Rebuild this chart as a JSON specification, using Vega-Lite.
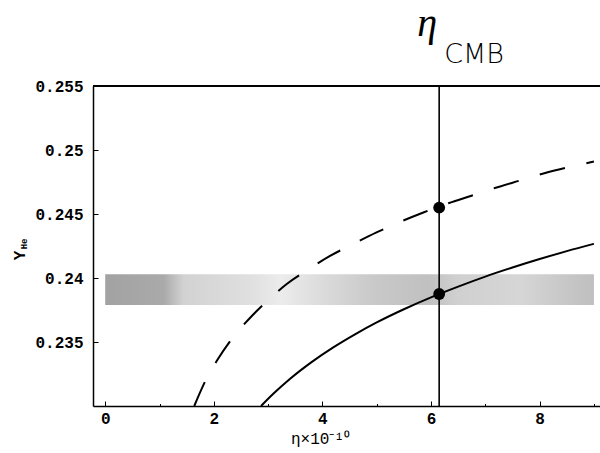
{
  "$schema": "https://vega.github.io/schema/vega-lite/v6.json",
  "width": 507,
  "height": 320,
  "autosize": {"type": "none"},
  "padding": {"left": 93, "top": 86, "right": 0, "bottom": 47},
  "background": "white",
  "config": {
    "view": {"stroke": null},
    "axis": {
      "domainColor": "black",
      "domainWidth": 1.5,
      "tickColor": "black",
      "tickWidth": 1,
      "grid": false,
      "labelOverlap": false,
      "labelFont": "Liberation Mono",
      "labelFontSize": 16,
      "labelFontWeight": "bold",
      "labelColor": "black",
      "titleFont": "Liberation Mono",
      "titleColor": "black"
    }
  },
  "data": {
    "values": [
      {"s": "band", "eta": 0, "eta2": 9, "Y": 0.2379, "Y2": 0.2403},
      {"s": "cmb", "eta": 6.15},
      {"s": "solid", "eta": 2.87, "Y": 0.2300},
      {"s": "solid", "eta": 3.1, "Y": 0.23097},
      {"s": "solid", "eta": 3.4, "Y": 0.23211},
      {"s": "solid", "eta": 3.8, "Y": 0.23343},
      {"s": "solid", "eta": 4.2, "Y": 0.23458},
      {"s": "solid", "eta": 4.6, "Y": 0.2356},
      {"s": "solid", "eta": 5.0, "Y": 0.23653},
      {"s": "solid", "eta": 5.5, "Y": 0.23756},
      {"s": "solid", "eta": 6.0, "Y": 0.23849},
      {"s": "solid", "eta": 6.15, "Y": 0.23875},
      {"s": "solid", "eta": 6.5, "Y": 0.23933},
      {"s": "solid", "eta": 7.0, "Y": 0.24011},
      {"s": "solid", "eta": 7.5, "Y": 0.24082},
      {"s": "solid", "eta": 8.0, "Y": 0.24148},
      {"s": "solid", "eta": 8.5, "Y": 0.2421},
      {"s": "solid", "eta": 9.0, "Y": 0.24267},
      {"s": "dashed", "eta": 1.64, "Y": 0.2300},
      {"s": "dashed", "eta": 1.838, "Y": 0.2319},
      {"s": "dashed", "eta": 2.064, "Y": 0.23359},
      {"s": "dashed", "eta": 2.348, "Y": 0.23534},
      {"s": "dashed", "eta": 2.648, "Y": 0.2368},
      {"s": "dashed", "eta": 3.004, "Y": 0.23828},
      {"s": "dashed", "eta": 3.343, "Y": 0.23953},
      {"s": "dashed", "eta": 3.753, "Y": 0.2407},
      {"s": "dashed", "eta": 4.14, "Y": 0.24172},
      {"s": "dashed", "eta": 4.569, "Y": 0.24266},
      {"s": "dashed", "eta": 4.987, "Y": 0.24354},
      {"s": "dashed", "eta": 5.429, "Y": 0.24438},
      {"s": "dashed", "eta": 5.847, "Y": 0.2451},
      {"s": "dashed", "eta": 6.319, "Y": 0.24584},
      {"s": "dashed", "eta": 6.731, "Y": 0.24641},
      {"s": "dashed", "eta": 7.191, "Y": 0.24705},
      {"s": "dashed", "eta": 7.626, "Y": 0.2476},
      {"s": "dashed", "eta": 8.087, "Y": 0.24818},
      {"s": "dashed", "eta": 8.529, "Y": 0.24865},
      {"s": "dashed", "eta": 9.0, "Y": 0.2491},
      {"s": "dot", "eta": 6.15, "Y": 0.2455},
      {"s": "dot", "eta": 6.15, "Y": 0.23875}
    ]
  },
  "layer": [
    {
      "transform": [{"filter": "datum.s === 'band'"}],
      "mark": {
        "type": "rect",
        "fill": {
          "gradient": "linear",
          "x1": 0, "x2": 1, "y1": 0, "y2": 0,
          "stops": [
            {"offset": 0.0, "color": "#a2a2a2"},
            {"offset": 0.12, "color": "#aaaaaa"},
            {"offset": 0.16, "color": "#d2d2d2"},
            {"offset": 0.3, "color": "#e0e0e0"},
            {"offset": 0.36, "color": "#ececec"},
            {"offset": 0.45, "color": "#dadada"},
            {"offset": 0.55, "color": "#c9c9c9"},
            {"offset": 0.66, "color": "#c0c0c0"},
            {"offset": 0.72, "color": "#d0d0d0"},
            {"offset": 0.85, "color": "#d6d6d6"},
            {"offset": 0.95, "color": "#c6c6c6"},
            {"offset": 1.0, "color": "#bfbfbf"}
          ]
        }
      },
      "encoding": {
        "x": {
          "field": "eta", "type": "quantitative",
          "scale": {"domain": [-0.225, 9.112], "nice": false, "zero": false},
          "axis": {
            "orient": "bottom",
            "values": [0, 0.5, 1, 1.5, 2, 2.5, 3, 3.5, 4, 4.5, 5, 5.5, 6, 6.5, 7, 7.5, 8, 8.5, 9],
            "labelOverlap": false,
            "labelExpr": "datum.value % 2 == 0 ? format(datum.value, 'd') : ''",
            "tickSize": {"condition": {"test": "datum.value % 2 == 0", "value": -5}, "value": -2.5},
            "labelPadding": 9,
            "title": "η×10⁻¹⁰",
            "titleFontSize": 16,
            "titleFontWeight": "normal",
            "titleX": 227,
            "titleY": 37,
            "titleBaseline": "alphabetic",
            "titleAlign": "center"
          }
        },
        "x2": {"field": "eta2"},
        "y": {
          "field": "Y", "type": "quantitative",
          "scale": {"domain": [0.23, 0.255], "nice": false, "zero": false},
          "axis": {
            "orient": "left",
            "values": [0.235, 0.24, 0.245, 0.25, 0.255],
            "labelOverlap": false,
            "format": ".3~f",
            "tickSize": -5,
            "labelPadding": 15,
            "title": "Y",
            "titleFontSize": 16,
            "titleFontWeight": "bold",
            "titleAngle": -90,
            "titleX": -74,
            "titleY": 169,
            "titleAlign": "center",
            "titleBaseline": "middle"
          }
        },
        "y2": {"field": "Y2"}
      }
    },
    {
      "mark": {"type": "rule", "color": "black", "strokeWidth": 1.5},
      "encoding": {"y": {"datum": 0.255, "type": "quantitative"}}
    },
    {
      "transform": [{"filter": "datum.s === 'cmb'"}],
      "mark": {"type": "rule", "color": "black", "strokeWidth": 1.6},
      "encoding": {"x": {"field": "eta", "type": "quantitative"}}
    },
    {
      "transform": [{"filter": "datum.s === 'solid'"}],
      "mark": {"type": "line", "color": "black", "strokeWidth": 2, "interpolate": "monotone"},
      "encoding": {
        "x": {"field": "eta", "type": "quantitative"},
        "y": {"field": "Y", "type": "quantitative"}
      }
    },
    {
      "transform": [{"filter": "datum.s === 'dashed'"}],
      "mark": {"type": "line", "color": "black", "strokeWidth": 2, "strokeDash": [26, 22], "interpolate": "monotone"},
      "encoding": {
        "x": {"field": "eta", "type": "quantitative"},
        "y": {"field": "Y", "type": "quantitative"}
      }
    },
    {
      "transform": [{"filter": "datum.s === 'dot'"}],
      "mark": {"type": "circle", "color": "black", "opacity": 1, "size": 140},
      "encoding": {
        "x": {"field": "eta", "type": "quantitative"},
        "y": {"field": "Y", "type": "quantitative"}
      }
    },
    {
      "transform": [{"filter": "datum.s === 'cmb'"}],
      "mark": {"type": "text", "text": "η", "font": "Liberation Serif", "fontStyle": "italic", "fontSize": 40, "align": "center", "baseline": "alphabetic", "dx": -12, "dy": -50, "color": "black"},
      "encoding": {
        "x": {"field": "eta", "type": "quantitative"},
        "y": {"datum": 0.255, "type": "quantitative"}
      }
    },
    {
      "transform": [{"filter": "datum.s === 'cmb'"}],
      "mark": {"type": "text", "text": "CMB", "font": "DejaVu Sans", "fontWeight": 200, "fontSize": 27, "align": "left", "baseline": "alphabetic", "dx": 5, "dy": -23, "color": "black"},
      "encoding": {
        "x": {"field": "eta", "type": "quantitative"},
        "y": {"datum": 0.255, "type": "quantitative"}
      }
    },
    {
      "transform": [{"filter": "datum.s === 'cmb'"}],
      "mark": {"type": "text", "text": "He", "font": "Liberation Mono", "fontWeight": "bold", "fontSize": 9, "angle": 270, "align": "center", "baseline": "middle", "dx": 0, "dy": -69.5, "color": "black"},
      "encoding": {
        "x": {"datum": -0.225, "type": "quantitative"},
        "y": {"datum": 0.24266, "type": "quantitative"}
      }
    }
  ]
}
